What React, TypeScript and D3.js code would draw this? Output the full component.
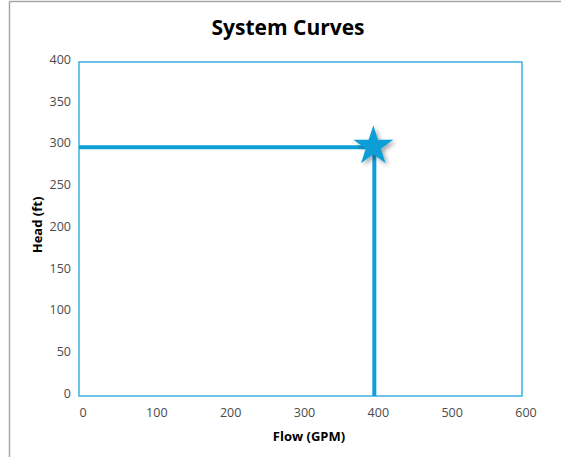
import React from "react";
import * as d3 from "d3";

const xTicks = [0, 100, 200, 300, 400, 500, 600];
const yTicks = [0, 50, 100, 150, 200, 250, 300, 350, 400];
const operatingFlow = [400];
const operatingHead = [298];
const title = "System Curves";
const xLabel = "Flow (GPM)";
const yLabel = "Head (ft)";

const W = 561;
const H = 457;
const plot = { left: 79, right: 522, top: 62, bottom: 396 };
const font = "'Open Sans', 'Liberation Sans', sans-serif";
const lineColor = "#0E9ED8";
const boxColor = "#3CB0E4";
const labelColor = "#4a4a4a";

export default function App() {
  const x = d3.scaleLinear().domain([0, 600]).range([plot.left, plot.right]);
  const y = d3.scaleLinear().domain([0, 400]).range([plot.bottom, plot.top]);
  const px = x(operatingFlow[0]);
  const py = y(operatingHead[0]);
  const star = d3.symbol().type(d3.symbolStar).size(495)();
  const hLine = d3.line()([[x(0), py], [px, py]]);
  const vLine = d3.line()([[px, py], [px, y(0)]]);

  return (
    <svg
      width={W}
      height={H}
      style={{ position: "absolute", left: 0, top: 0, background: "#fff" }}
    >
      <defs>
        <filter id="shadow" x="-50%" y="-50%" width="200%" height="200%">
          <feDropShadow dx="2.5" dy="2.5" stdDeviation="2" floodColor="#000" floodOpacity="0.35" />
        </filter>
      </defs>
      <rect x={0} y={0} width={W} height={H} fill="#fff" />
      {/* outer frame */}
      <line x1={9.5} y1={1.5} x2={W} y2={1.5} stroke="#a6a6a6" strokeWidth={1.5} />
      <line x1={9.5} y1={1.5} x2={9.5} y2={H} stroke="#a6a6a6" strokeWidth={1.5} />

      <text
        x={288}
        y={35}
        textAnchor="middle"
        fontFamily={font}
        fontWeight="bold"
        fontSize={21}
        fill="#000"
      >
        {title}
      </text>

      {/* plot box */}
      <rect
        x={plot.left}
        y={plot.top}
        width={plot.right - plot.left}
        height={plot.bottom - plot.top}
        fill="none"
        stroke={boxColor}
        strokeWidth={1.5}
      />

      {/* y tick labels */}
      {yTicks.map((t) => (
        <text
          key={"y" + t}
          x={71}
          y={y(t) - 2.5}
          dy="0.35em"
          textAnchor="end"
          fontFamily={font}
          fontSize={12.5}
          fill={labelColor}
        >
          {t}
        </text>
      ))}
      {/* x tick labels */}
      {xTicks.map((t) => (
        <text
          key={"x" + t}
          x={x(t) + 4}
          y={413}
          dy="0.35em"
          textAnchor="middle"
          fontFamily={font}
          fontSize={12.5}
          fill={labelColor}
        >
          {t}
        </text>
      ))}

      <text
        x={309}
        y={436}
        dy="0.35em"
        textAnchor="middle"
        fontFamily={font}
        fontWeight="bold"
        fontSize={13}
        fill="#000"
      >
        {xLabel}
      </text>
      <text
        transform={`translate(37,225) rotate(-90)`}
        dy="0.35em"
        textAnchor="middle"
        fontFamily={font}
        fontWeight="bold"
        fontSize={13}
        fill="#000"
      >
        {yLabel}
      </text>

      <path d={hLine ?? ""} stroke={lineColor} strokeWidth={4} fill="none" />
      <path d={vLine ?? ""} stroke={lineColor} strokeWidth={4} fill="none" />
      <path
        d={star ?? ""}
        transform={`translate(${px - 1},${py - 1})`}
        fill={lineColor}
        filter="url(#shadow)"
      />
    </svg>
  );
}
